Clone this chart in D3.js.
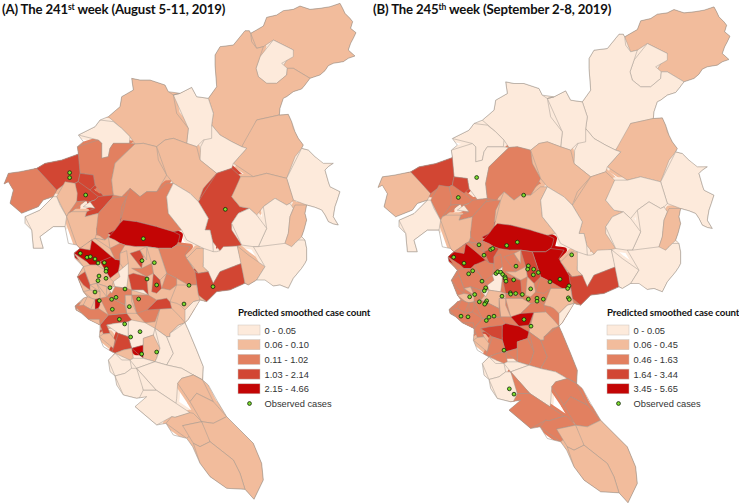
<!DOCTYPE html>
<html>
<head>
<meta charset="utf-8">
<script src="https://cdn.jsdelivr.net/npm/d3@7"></script>
<style>
  html, body { margin: 0; background: #fff; }
  svg { display: block; }
  .region { stroke: #a39a92; stroke-width: 0.5; stroke-linejoin: round; }
  .coast { fill: none; stroke: #a39a92; stroke-width: 0.6; stroke-linejoin: round; }
  .case { fill: #7ddc2e; stroke: #10240a; stroke-width: 0.8; }
  .title { font: bold 13.2px Lato, sans-serif; fill: #111; letter-spacing: -0.15px; }
  .legend-title { font: bold 9.7px Lato, sans-serif; fill: #111; letter-spacing: -0.1px; }
  .legend-label { font: 9.3px "Liberation Sans", sans-serif; fill: #333; }
</style>
</head>
<body>
<svg id="chart" width="739" height="504"></svg>
<script>
/* ─── Data ───────────────────────────────────────────────────────────────── */
// Outlines, in map units (3 units = 1 px). Paint order
// matters: later districts sit on top of earlier ones.

const northRings = [
  [[750,100],[790,75],[800,55],[850,35],[900,20],[960,25],[1020,12],[1035,40],[1055,60],[1050,85],[1068,100],[1055,125],[1040,150],[1065,170],[1030,185],[985,195],[960,225],[930,235],[880,205],[845,205],[880,150],[820,120],[790,140],[770,145],[755,125]],
  [[820,120],[880,150],[880,170],[845,190],[862,205],[860,225],[830,250],[800,250],[775,230],[768,205],[780,170],[785,140]],
  [[735,92],[750,100],[755,125],[770,145],[785,140],[780,170],[768,205],[775,230],[800,250],[830,250],[860,225],[862,205],[880,205],[930,235],[905,265],[860,290],[840,325],[838,345],[770,360],[750,410],[725,440],[695,425],[660,405],[635,375],[640,340],[625,295],[650,260],[645,195],[645,165],[660,140],[700,135],[740,125]],
  [[770,360],[838,345],[865,345],[880,385],[910,435],[885,470],[860,535],[800,520],[760,530],[700,490],[740,445],[725,440],[750,410]],
  [[910,445],[950,470],[1000,490],[975,510],[990,560],[1020,575],[1005,620],[1000,650],[1015,675],[985,665],[965,630],[920,615],[880,600],[855,540],[860,535],[885,470]],
  [[635,375],[660,405],[695,425],[725,440],[740,445],[700,490],[695,505],[650,520],[600,480],[602,440],[635,415]],
  [[520,285],[575,262],[590,290],[625,295],[640,340],[635,375],[635,415],[610,420],[590,440],[560,430],[565,385],[530,340]],
  [[325,350],[360,320],[365,290],[400,270],[395,235],[420,240],[450,240],[495,255],[505,275],[540,280],[520,285],[530,340],[565,385],[560,430],[520,415],[495,420],[470,440],[430,430],[405,432],[390,410],[365,385],[340,365]],
  [[235,405],[285,380],[300,360],[340,365],[365,385],[390,410],[388,430],[340,430],[330,445],[325,470],[305,475],[305,430],[295,420],[250,425]],
  [[232,440],[295,420],[305,430],[305,475],[325,470],[330,445],[340,432],[405,432],[370,465],[345,490],[335,540],[340,585],[310,588],[285,555],[280,525],[240,520],[238,470]],
  [[405,432],[430,430],[470,440],[475,480],[500,525],[470,575],[440,575],[420,590],[390,565],[365,590],[340,590],[335,540],[345,490],[370,465]],
  [[470,440],[495,420],[520,415],[560,430],[590,440],[600,480],[650,520],[610,565],[595,605],[570,580],[520,550],[500,525],[475,480]],
  [[650,520],[695,505],[722,530],[715,555],[695,590],[720,620],[748,625],[715,640],[695,670],[695,690],[725,735],[660,752],[638,725],[630,690],[615,690],[625,655],[595,605],[610,565]],
  [[720,530],[760,530],[800,520],[860,535],[855,540],[880,605],[860,615],[825,595],[790,620],[770,645],[745,625],[720,620],[695,590],[715,555]],
  [[790,620],[825,595],[870,610],[880,625],[870,650],[865,700],[855,745],[790,745],[775,740],[800,685],[775,645]],
  [[695,670],[715,640],[748,625],[770,645],[800,685],[775,740],[725,735],[695,690]],
  [[885,615],[915,615],[920,660],[905,710],[885,730],[860,745],[865,700],[870,650]],
  [[12,552],[25,520],[60,515],[110,505],[135,530],[170,570],[165,590],[130,600],[115,620],[65,640],[30,610],[40,570],[30,545]],
  [[115,505],[135,490],[185,480],[235,462],[238,520],[225,550],[190,555],[175,570],[165,570],[135,530]],
  [[225,550],[240,520],[280,525],[285,555],[270,570],[235,545]],
  [[225,550],[235,545],[270,572],[295,590],[270,605],[255,603],[230,605],[232,580]],
  [[170,590],[195,545],[225,550],[232,605],[200,650],[180,615]],
  [[232,605],[255,603],[215,635],[205,640]],
  [[250,620],[285,600],[285,625],[260,635]],
  [[270,605],[295,590],[340,585],[335,595],[295,640],[255,650],[260,635],[285,620],[285,605]],
  [[75,650],[120,630],[160,590],[175,585],[180,615],[200,650],[195,680],[160,680],[120,710],[130,745],[100,745],[95,690],[75,670]],
  [[200,650],[215,632],[260,635],[255,650],[295,640],[305,660],[290,685],[285,715],[230,745],[195,680]],
  [[295,640],[335,595],[380,590],[365,620],[360,670],[325,700],[315,720],[290,700],[290,685],[305,660]],
  [[380,590],[390,565],[420,590],[440,575],[470,575],[500,550],[520,550],[500,590],[505,640],[545,690],[515,705],[470,680],[410,665],[360,670],[365,620]],
  [[520,555],[570,580],[595,605],[625,655],[615,690],[630,690],[640,755],[610,745],[560,720],[545,690],[505,640],[500,590],[510,570]],
  [[325,712],[345,690],[370,660],[410,668],[470,680],[520,695],[540,705],[535,725],[515,745],[410,740],[380,752],[345,720]],
];
const northClass241 = [2,1,2,2,1, 1,1,2,1,3, 2,2,4,2,1, 1,2,3,4,4, 4,2,3,1,4, 1,2,3,3,1, 5];
const northClass245 = [2,1,1,2,1, 1,1,1,1,1, 3,2,2,1,1, 1,2,2,4,4, 3,3,3,1,3, 1,2,3,2,1, 5];

// South sheet: same units, its origin lies 690 units lower.
const southRings = [
  [[222,70],[275,30],[330,25],[375,45],[440,50],[475,55],[530,45],[595,130],[590,165],[620,215],[555,275],[500,320],[465,295],[385,285],[300,300],[265,268],[228,240],[250,205],[232,140],[250,110]],
  [[475,60],[530,45],[570,50],[555,75],[590,130],[590,160],[565,165],[530,145],[500,130],[490,100]],
  [[560,85],[590,55],[615,65],[610,110],[625,125],[590,130]],
  [[610,60],[650,65],[670,50],[712,48],[725,100],[660,125],[640,160],[615,140],[625,125],[610,100]],
  [[585,125],[625,125],[640,160],[660,125],[720,102],[735,160],[690,180],[650,185],[620,215],[595,195],[590,165]],
  [[715,55],[745,75],[795,110],[770,150],[730,160],[720,100]],
  [[760,50],[855,40],[875,50],[895,30],[920,30],[920,90],[905,115],[865,175],[820,165],[770,150],[795,115],[760,75]],
  [[530,165],[590,165],[605,205],[580,215],[555,240],[540,225],[530,220],[510,215],[510,180]],
  [[555,240],[580,218],[612,213],[585,235],[565,268],[555,275],[540,260]],
  [[480,235],[515,235],[555,270],[535,285],[510,320],[470,295],[480,265]],
  [[410,250],[440,225],[480,235],[465,275],[435,278],[410,260]],
  [[300,285],[325,255],[380,250],[395,270],[385,285],[345,280],[320,285],[330,310],[310,312],[300,300]],
  [[320,285],[345,280],[385,275],[385,320],[355,310],[330,310]],
  [[385,275],[400,265],[440,270],[465,290],[460,315],[430,325],[430,345],[395,355],[385,320]],
  [[298,320],[330,310],[345,330],[340,355],[310,350]],
  [[355,310],[385,320],[395,355],[370,360],[340,365],[335,350],[345,325]],
  [[345,365],[395,355],[400,385],[390,390],[365,390]],
  [[395,355],[430,345],[430,385],[395,385]],
  [[430,325],[460,315],[480,355],[470,385],[465,395],[430,390],[430,385],[430,345]],
  [[465,290],[470,295],[495,322],[510,345],[520,370],[500,405],[465,400],[475,385],[480,355],[460,315]],
  [[555,278],[565,300],[590,360],[610,410],[608,450],[580,435],[545,415],[500,405],[520,370],[510,345],[495,322],[510,310],[535,282]],
  [[325,390],[345,370],[365,390],[395,390],[395,415],[375,430],[345,438],[330,425]],
  [[395,390],[430,390],[465,395],[465,400],[410,415],[395,415]],
  [[345,440],[375,430],[410,420],[425,445],[430,480],[440,500],[410,505],[370,495],[350,465]],
  [[418,420],[465,400],[500,405],[545,415],[608,450],[573,440],[533,460],[528,520],[468,480],[430,440]],
  [[430,480],[468,480],[528,520],[570,548],[515,560],[470,585],[405,530],[440,500]],
  [[410,418],[418,420],[468,480],[430,480],[425,445]],
  [[530,460],[545,445],[575,440],[610,450],[640,515],[590,490],[570,515],[530,505]],
  [[570,515],[590,490],[640,515],[680,560],[640,580],[605,575],[580,550]],
  [[498,580],[525,562],[570,550],[600,575],[548,587],[578,610],[563,630],[520,615]],
  [[548,587],[600,575],[625,610],[630,635],[600,650],[580,640],[578,610]],
  [[600,575],[640,580],[680,560],[720,600],[760,640],[785,700],[790,750],[762,808],[735,778],[720,730],[700,690],[630,635],[625,610]],
  [[578,640],[600,650],[630,635],[700,690],[720,730],[735,778],[680,775],[630,740],[600,700],[578,655]],
  // central districts
  [[222,70],[240,55],[270,60],[275,30],[300,50],[335,80],[345,88],[300,95],[270,105],[260,95],[225,85]],
  [[300,95],[330,85],[360,90],[355,125],[330,145],[315,120],[290,105]],
  [[288,30],[325,25],[330,55],[300,55]],
  [[335,50],[360,40],[375,50],[365,85],[335,80]],
  [[360,70],[385,70],[385,100],[370,115],[360,100]],
  [[385,95],[390,105],[385,135],[380,175],[345,170],[340,155],[360,140],[360,125],[370,115]],
  [[390,70],[420,60],[430,80],[425,115],[395,115]],
  [[440,55],[470,50],[475,60],[490,100],[505,135],[480,150],[460,130],[455,100],[440,90]],
  [[420,60],[440,55],[440,90],[430,80]],
  [[395,115],[425,115],[455,100],[460,130],[440,140],[400,130]],
  [[385,135],[400,130],[440,145],[445,195],[430,180],[395,180],[380,170]],
  [[460,130],[480,150],[485,175],[470,190],[455,185],[445,140]],
  [[500,135],[530,145],[530,165],[510,180],[490,175],[480,150]],
  [[395,180],[430,180],[445,195],[395,195]],
  [[440,240],[470,210],[500,205],[520,235],[480,235]],
  [[400,195],[445,195],[470,210],[440,240],[410,250],[395,215]],
  [[375,195],[400,195],[395,215],[410,250],[380,250],[375,225]],
  [[340,175],[380,175],[395,180],[395,195],[375,195],[375,225],[345,210],[320,200],[335,190]],
  [[300,205],[320,200],[345,210],[375,225],[380,250],[325,255],[300,225]],
  [[320,170],[345,170],[340,185],[320,195]],
  [[250,110],[290,105],[315,120],[330,145],[335,170],[320,170],[290,160],[270,165],[255,125]],
  [[232,140],[255,125],[270,165],[270,180],[250,165],[235,155]],
  [[270,165],[295,162],[300,185],[275,185]],
  [[295,162],[320,170],[320,195],[300,190]],
  [[250,185],[275,185],[300,190],[300,205],[275,205],[255,200]],
  [[255,200],[285,208],[272,238],[250,225],[255,215]],
  [[228,228],[250,222],[280,240],[295,235],[325,255],[300,285],[298,268],[265,268],[245,250],[228,240]],
  [[285,208],[303,208],[295,225],[285,238],[272,238]],
];
const southClass241 = [2,3,2,1,4, 2,1,2,1,2, 3,4,1,1,2, 4,2,5,2,1, 1,1,1,1,1, 1,1,2,2,2, 2,2,2,5,5, 2,3,2,1,4, 2,2,3,4,4, 3,1,4,3,2, 3,3,1,2,4, 2,2,2,2,3, 5];
const southClass245 = [3,5,2,1,4, 1,1,2,1,2, 5,3,4,5,2, 3,3,3,3,3, 3,1,1,1,1, 3,3,3,3,3, 2,2,2,5,3, 3,4,3,1,3, 4,2,2,4,2, 3,3,3,2,2, 2,3,1,3,3, 2,3,2,3,3, 3];

// Outer edge of the whole map, also in map units.
const coastRing = [
  [735,92],[748,92],[752,100],[790,78],[800,52],[830,45],[850,32],[880,28],[900,18],[930,28],[960,25],[990,20],[1020,10],[1028,25],[1035,40],[1050,55],[1058,65],[1052,85],[1068,98],[1060,115],[1052,130],[1045,150],[1065,168],[1045,175],[1030,185],[1000,190],[985,197],[975,212],[960,225],[930,235],[915,255],[905,267],[880,275],[860,290],[850,295],[840,325],[838,345],[865,343],[875,365],[885,395],[895,415],[910,435],[905,445],[925,450],[945,470],[970,490],[1000,490],[985,500],[975,510],[985,545],[990,560],[1020,575],[1012,600],[1005,620],[1000,650],[1015,675],[1000,672],[985,665],[975,645],[965,630],[945,622],[920,615],[915,640],[920,660],[912,690],[905,710],[915,720],[920,745],
  [920,780],[915,790],[905,805],[880,835],[865,865],[840,855],[820,858],[795,840],[770,840],[745,855],[735,850],[690,870],[650,875],[620,905],[600,900],[585,925],[565,958],[555,968],[565,990],[590,1050],[610,1100],[608,1140],[625,1155],[650,1200],[680,1250],[720,1290],[760,1330],[785,1390],[790,1440],[762,1498],[735,1468],[680,1465],[630,1430],[600,1390],[578,1340],[560,1315],[520,1305],[498,1270],[470,1275],[405,1220],[440,1190],[410,1195],[370,1185],[350,1155],[345,1128],[330,1115],[325,1080],[345,1060],[335,1055],[310,1040],[298,1010],[300,990],[300,975],[265,958],[245,940],[228,930],[225,918],[250,895],[262,890],[250,875],[240,850],[232,830],[250,800],[225,775],[222,760],[240,745],[230,735],[205,730],
  [195,680],[160,680],[120,710],[130,745],[100,745],[95,690],[75,670],[75,650],[120,630],[160,590],[130,600],[115,620],[65,640],[30,610],[40,570],[25,545],[12,552],[25,520],[60,515],[110,505],[135,490],[185,480],[235,462],[232,440],[250,425],[235,405],[285,380],[300,360],[325,350],[360,320],[365,290],[400,270],[395,235],[420,240],[450,240],[495,255],[505,275],[540,280],[575,262],[590,290],[625,295],[650,260],[645,195],[645,165],[660,140],[700,135],[740,125],
];

const colorClasses = [1, 2, 3, 4, 5];
const classColors = ['#fdeadb', '#f2bc9c', '#e28060', '#d24633', '#c30505'];

const breaks241 = ['0 - 0.05', '0.06 - 0.10', '0.11 - 1.02', '1.03 - 2.14', '2.15 - 4.66'];
const breaks245 = ['0 - 0.05', '0.06 - 0.45', '0.46 - 1.63', '1.64 - 3.44', '3.45 - 5.65'];

const cases241 = [[209,518],[209,533],[257,585],[676,628],[430,716],[241,760],[261,772],[271,770],[285,777],[294,789],[313,788],[319,806],[318,814],[297,828],[318,835],[294,842],[285,876],[330,863],[375,867],[441,837],[470,855],[426,782],[463,788],[567,856],[639,860],[552,912],[416,897],[388,920],[348,892],[335,898],[298,902],[337,928],[358,958],[374,972],[420,995],[392,1011],[470,1056],[425,1062]];
const cases245 = [[308,522],[253,582],[449,575],[315,724],[350,738],[356,735],[398,726],[430,716],[593,754],[330,755],[239,761],[270,779],[284,811],[296,802],[324,833],[366,810],[371,805],[380,806],[386,813],[393,820],[394,825],[396,833],[419,829],[426,788],[463,787],[461,797],[479,797],[493,807],[478,814],[528,835],[558,827],[585,847],[581,855],[583,883],[586,888],[335,853],[331,862],[302,873],[287,880],[316,895],[338,892],[335,898],[332,902],[384,878],[409,868],[410,872],[425,870],[445,873],[470,856],[463,887],[489,884],[489,893],[508,887],[261,938],[282,940],[337,951],[345,941],[360,938],[450,948],[471,968],[390,1040],[406,1156],[420,1172]];

/* ─── Setup ──────────────────────────────────────────────────────────────── */

const svg = d3.select('#chart');
const color = d3.scaleOrdinal(colorClasses, classColors);

const projection = d3.geoIdentity().scale(1 / 3);
const path = d3.geoPath(projection);

const tracedRings = northRings
  .concat(southRings.map(ring => ring.map(([x, y]) => [x, y + 690])));

const regions = snapRings(tracedRings, coastRing)
  .map(ring => ({ type: 'Polygon', coordinates: [ring] }));
const coast = { type: 'Polygon', coordinates: [coastRing] };

const class241 = northClass241.concat(southClass241);
const class245 = northClass245.concat(southClass245);

svg.append('clipPath').attr('id', 'coast-clip').append('path').attr('d', path(coast));

drawPanel({ dx: 0, dy: 0, classes: class241, cases: cases241 });
drawPanel({ dx: 374, dy: 3.5, classes: class245, cases: cases245 });

drawTitle(2, 14, '(A) The 241', 'st', ' week (August 5-11, 2019)');
drawTitle(373, 14, '(B) The 245', 'th', ' week (September 2-8, 2019)');

drawLegend(238, 'Predicted smoothed case count', breaks241);
drawLegend(607, 'Predicted smoothed case count', breaks245);

/* ─── Topology clean-up ──────────────────────────────────────────────────── */

// Hand traced rings never quite meet. Pull near vertices together, then add
// those shared vertices to any edge that passes close by.
function snapRings(rings, seedRing) {
  const nodes = seedRing.map(p => p.slice());
  const nodeFor = p => {
    let best = null, bestD = 10;
    nodes.forEach(n => {
      const d = Math.hypot(n[0] - p[0], n[1] - p[1]);
      if (d < bestD) { best = n; bestD = d; }
    });
    if (!best) { best = p.slice(); nodes.push(best); }
    return best;
  };

  const snapped = rings.map(ring => ring.map(nodeFor).filter((n, i, a) => n !== a[(i + 1) % a.length]));

  return snapped.map(ring => {
    const out = [];
    ring.forEach((a, i) => {
      const b = ring[(i + 1) % ring.length];
      const len2 = (b[0] - a[0]) ** 2 + (b[1] - a[1]) ** 2;
      const onEdge = [];
      nodes.forEach(n => {
        if (n === a || n === b) return;
        const t = ((n[0] - a[0]) * (b[0] - a[0]) + (n[1] - a[1]) * (b[1] - a[1])) / len2;
        if (t <= 0.02 || t >= 0.98) return;
        const d = Math.hypot(a[0] + t * (b[0] - a[0]) - n[0], a[1] + t * (b[1] - a[1]) - n[1]);
        if (d < 8) onEdge.push({ n, t });
      });
      out.push(a);
      onEdge.sort((p, q) => p.t - q.t).forEach(e => out.push(e.n));
    });
    return out;
  });
}

/* ─── Panels ─────────────────────────────────────────────────────────────── */

function drawPanel({ dx, dy, classes, cases }) {
  const g = svg.append('g').attr('transform', `translate(${dx},${dy})`);
  const land = g.append('g').attr('clip-path', 'url(#coast-clip)');

  // Fatten each district first so no white slits stay between neighbours,
  // the coast clip trims the excess.
  land.append('g').selectAll('path')
    .data(regions)
    .join('path')
    .attr('d', path)
    .attr('fill', (d, i) => color(classes[i]))
    .attr('stroke', (d, i) => color(classes[i]))
    .attr('stroke-width', 6)
    .attr('stroke-linejoin', 'round');

  land.append('g').selectAll('path')
    .data(regions)
    .join('path')
    .attr('class', 'region')
    .attr('d', path)
    .attr('fill', (d, i) => color(classes[i]));

  g.append('path').attr('class', 'coast').attr('d', path(coast));

  g.selectAll('circle')
    .data(cases)
    .join('circle')
    .attr('class', 'case')
    .attr('r', 1.9)
    .attr('cx', d => projection(d)[0])
    .attr('cy', d => projection(d)[1]);
}

function drawTitle(x, y, before, sup, after) {
  const t = svg.append('text').attr('class', 'title').attr('x', x).attr('y', y);
  t.append('tspan').text(before);
  t.append('tspan').attr('dy', -4.5).style('font-size', '8.5px').text(sup);
  t.append('tspan').attr('dy', 4.5).text(after);
}

/* ─── Legend ─────────────────────────────────────────────────────────────── */

function drawLegend(x, title, labels) {
  const rowY = d3.scalePoint(d3.range(labels.length + 1), [330, 403.5]);
  const g = svg.append('g');

  g.append('text').attr('class', 'legend-title')
    .attr('x', x).attr('y', 315.5).text(title);

  labels.forEach((label, i) => {
    g.append('rect')
      .attr('x', x).attr('y', rowY(i) - 5)
      .attr('width', 22).attr('height', 10)
      .attr('fill', color(colorClasses[i]))
      .attr('stroke', '#c9c2bc').attr('stroke-width', 0.5);
    g.append('text').attr('class', 'legend-label')
      .attr('x', x + 26.5).attr('y', rowY(i) + 3.5).text(label);
  });

  const last = labels.length;
  g.append('circle').attr('class', 'case')
    .attr('cx', x + 11.5).attr('cy', rowY(last)).attr('r', 1.9);
  g.append('text').attr('class', 'legend-label')
    .attr('x', x + 26.5).attr('y', rowY(last) + 3.5).text('Observed cases');
}
</script>
</body>
</html>
